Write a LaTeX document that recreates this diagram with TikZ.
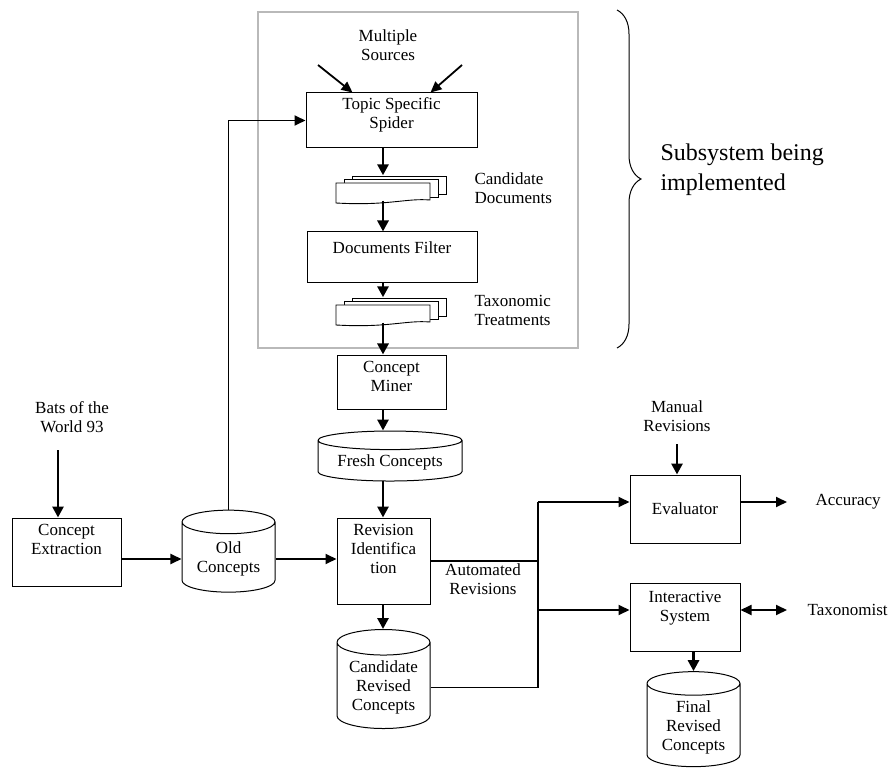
\documentclass[tikz,border=0pt]{standalone}
\usepackage{fontspec}
\setmainfont{Liberation Serif}
\usepackage{tikz}
\usetikzlibrary{shapes.geometric, arrows.meta, positioning, decorations.pathreplacing}

\tikzset{
  box/.style={draw, line width=1pt, align=center, inner sep=2pt},
  store/.style={cylinder, shape border rotate=90, draw, line width=1pt, aspect=0.35, align=center, inner sep=2pt},
  lbl/.style={align=center},
  flow/.style={line width=2.8pt, -{Triangle[length=11pt,width=11pt]}},
  link/.style={line width=1.8pt, -{Triangle[length=11pt,width=10pt]}},
  wire/.style={line width=1.3pt},
  lifted/.style={text depth=#1},
  docstack/.pic={
    % two pages behind, one in front with a wavy foot
    \draw[fill=white, line width=0.9pt] (16,-7) rectangle (110,11);
    \draw[fill=white, line width=0.9pt] (8,-3.5) rectangle (102,14.5);
    \draw[fill=white, line width=0.9pt] (0,0) -- (94,0) -- (94,17)
      .. controls (70,15) and (52,23) .. (0,20) -- cycle;
    \node[minimum width=110pt, minimum height=27pt, inner sep=0pt] (-frame) at (55,6) {};
  }
}

\begin{document}
\begin{tikzpicture}[x=1pt, y=-1pt, font=\fontsize{17}{19}\selectfont]
  \useasboundingbox (0,0) rectangle (891,775);

  % subsystem frame and brace
  \node[draw=gray!55, line width=2.4pt, minimum width=320pt, minimum height=336pt, inner sep=0pt] (subsys) at (418,180) {};
  \draw[line width=1pt, decorate, decoration={brace, amplitude=24pt}] (617,10) -- (617,348);
  \node[anchor=west, align=left, font=\fontsize{24}{30}\selectfont] (sublab) at (657,170) {Subsystem being\\implemented};

  \coordinate (col) at (383,0);

  % crawler part
  \node[lbl] (sources) at (388,45) {Multiple\\Sources};
  \node[box, minimum width=171pt, minimum height=55pt, lifted=14pt] (spider) at (391.5,120.5) {Topic Specific\\Spider};
  \pic (cdocs) at (336,183) {docstack};
  \node[anchor=west, align=left] (cdlab) at (471,188) {Candidate\\Documents};
  \node[box, minimum width=170pt, minimum height=51pt, lifted=20pt] (filter) at (392,257.5) {Documents Filter};
  \pic (tdocs) at (336,305) {docstack};
  \node[anchor=west, align=center] (tdlab) at (471,310) {Taxonomic\\Treatments};

  % mining part
  \node[box, minimum width=109pt, minimum height=54pt, lifted=12pt] (miner) at (391.5,382) {Concept\\Miner};
  \node[store, aspect=0.17, minimum width=144pt, minimum height=50pt] (fresh) at (390,462) {Fresh Concepts};
  \node[box, minimum width=93pt, minimum height=86pt, lifted=24pt] (rev) at (383.5,561) {Revision\\Identifica\\tion};
  \node[store, minimum width=93pt, minimum height=99pt] (cand) at (383.5,687.5) {Candidate\\Revised\\Concepts};
  \node[lbl] (autolab) at (483,579) {Automated\\Revisions};

  % old taxonomy
  \node[lbl] (bats) at (72,417) {Bats of the\\World 93};
  \node[box, minimum width=109pt, minimum height=68pt, lifted=26pt] (extract) at (66.5,552) {Concept\\Extraction};
  \node[store, minimum width=93pt, minimum height=82pt] (old) at (228.5,559) {Old\\Concepts};

  % evaluation part
  \node[lbl] (manual) at (677,416) {Manual\\Revisions};
  \node[box, minimum width=110pt, minimum height=68pt] (eval) at (685,509) {Evaluator};
  \node[box, minimum width=110pt, minimum height=68pt, lifted=22pt] (inter) at (685,617) {Interactive\\System};
  \node[store, minimum width=93pt, minimum height=95pt] (final) at (693.5,727) {Final\\Revised\\Concepts};
  \node[anchor=west] (acc) at (812,502) {Accuracy};
  \node[anchor=west] (taxo) at (804,610) {Taxonomist};

  % connectors
  \coordinate (srcL) at (318,65);
  \coordinate (srcR) at (462,65);
  \draw[link] (srcL) -- ([xshift=47pt]spider.north west);
  \draw[link] (srcR) -- ([xshift=-47pt]spider.north east);
  \draw[flow] (spider.south -| col) -- (cdocs-frame.north -| col);
  \draw[flow] ([yshift=2pt]cdocs-frame.south -| col) -- (filter.north -| col);
  \draw[flow] (filter.south -| col) -- (tdocs-frame.north -| col);
  \draw[flow] ([yshift=2pt]tdocs-frame.south -| col) -- (miner.north -| col);
  \draw[flow] (miner.south -| col) -- (fresh.north -| col);
  \draw[flow] ([yshift=1pt]fresh.south -| col) -- (rev.north -| col);
  \draw[flow] (rev.south -| col) -- (cand.north -| col);

  \coordinate (batsin) at (58,450);
  \draw[flow] (batsin) -- (batsin |- extract.north);
  \draw[link] (extract.east |- old.west) -- (old.west);
  \draw[link] (old.north) |- (spider.west);
  \draw[link] (old.east) -- (old.east -| rev.west);

  \coordinate (jn) at (538,0);
  \coordinate (evalin) at ([yshift=7pt]eval.west);
  \coordinate (interin) at ([yshift=7pt]inter.west);
  \draw[wire] (rev.east) -- (rev.east -| jn);
  \draw[wire] (cand.east) -| (jn |- evalin);
  \draw[link] (jn |- evalin) -- (evalin);
  \draw[link] (jn |- interin) -- (interin);

  \draw[flow, shorten <=9pt] (manual.south -| 677,0) -- (eval.north -| 677,0);
  \draw[link, shorten >=25pt] ([yshift=7pt]eval.east) -- (acc.west);
  \draw[link, {Triangle[length=11pt,width=10pt]}-{Triangle[length=11pt,width=10pt]}, shorten >=17pt] ([yshift=7pt]inter.east) -- (taxo.west);
  \draw[flow] (inter.south -| final.north) -- (final.north);
\end{tikzpicture}
\end{document}
